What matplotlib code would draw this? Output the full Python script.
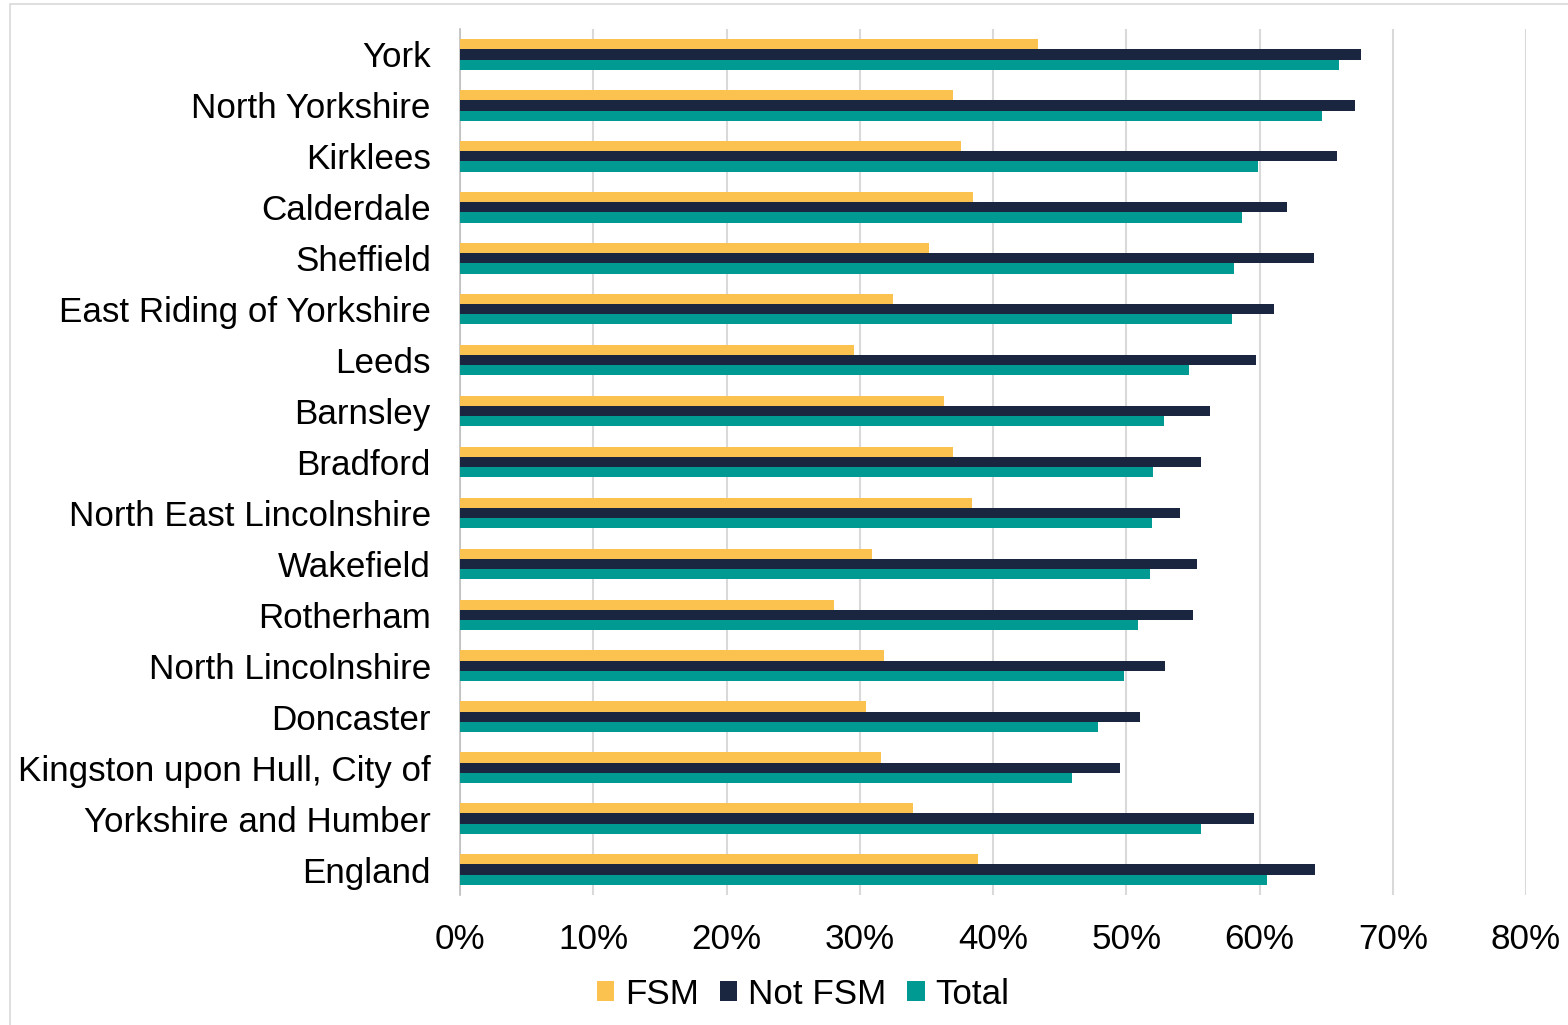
import numpy as np
import matplotlib
matplotlib.use('Agg')
from matplotlib import pyplot as plt
from matplotlib.patches import Rectangle
from matplotlib.ticker import PercentFormatter

plt.rcParams['font.family'] = ['Liberation Sans', 'DejaVu Sans']

# local authorities, top to bottom
areas = ['York', 'North Yorkshire', 'Kirklees', 'Calderdale', 'Sheffield',
         'East Riding of Yorkshire', 'Leeds', 'Barnsley', 'Bradford',
         'North East Lincolnshire', 'Wakefield', 'Rotherham',
         'North Lincolnshire', 'Doncaster', 'Kingston upon Hull, City of',
         'Yorkshire and Humber', 'England']

fsm = [43.4, 37.0, 37.6, 38.5, 35.2, 32.5, 29.6, 36.3, 37.0,
       38.4, 30.9, 28.1, 31.8, 30.5, 31.6, 34.0, 38.9]
not_fsm = [67.6, 67.2, 65.8, 62.1, 64.1, 61.1, 59.7, 56.3, 55.6,
           54.0, 55.3, 55.0, 52.9, 51.0, 49.5, 59.6, 64.2]
total = [66.0, 64.7, 59.9, 58.7, 58.1, 57.9, 54.7, 52.8, 52.0,
         51.9, 51.8, 50.9, 49.8, 47.9, 45.9, 55.6, 60.6]

series = ['FSM', 'Not FSM', 'Total']
colours = ['#FBC250', '#1A2640', '#009A93']

fig = plt.figure(figsize=(15.68, 10.25), dpi=100)
ax = fig.add_axes([460 / 1568, 1 - 895 / 1025, 1066 / 1568, 866 / 1025])

y = np.arange(len(areas))
h = 0.2
for i, (vals, name, col) in enumerate(zip([fsm, not_fsm, total], series, colours)):
    ax.barh(y + (i - 1) * h, vals, height=h, color=col, label=name, zorder=3)

ax.set_ylim(len(areas) - 0.5, -0.5)
ax.set_xlim(0, 80)
ax.set_xticks(np.arange(0, 81, 10))
ax.xaxis.set_major_formatter(PercentFormatter(decimals=0))
ax.set_yticks(y)
ax.set_yticklabels(areas)
ax.tick_params(axis='both', labelsize=25.2, length=0, colors='black')
ax.tick_params(axis='y', pad=21)
ax.tick_params(axis='x', pad=20)

ax.grid(axis='x', color='#D9D9D9', linewidth=1.5, zorder=0)
for s in ['top', 'right', 'bottom']:
    ax.spines[s].set_visible(False)
ax.spines['left'].set_color('#BFBFBF')
ax.spines['left'].set_linewidth(1.2)

fig.legend(loc='center', bbox_to_anchor=(803 / 1568, 1 - 994 / 1025), ncol=3,
           frameon=False, fontsize=25.2, handlelength=0.5, handleheight=0.5,
           handletextpad=0.3, columnspacing=0.6)

# light frame round the chart area
fig.patches.append(Rectangle((10 / 1568, -0.01), 1.02, 1 - 4 / 1025 + 0.01,
                             transform=fig.transFigure, fill=False,
                             edgecolor='#D9D9D9', linewidth=1.2))

fig.savefig('out.png', dpi=100, facecolor='white')
